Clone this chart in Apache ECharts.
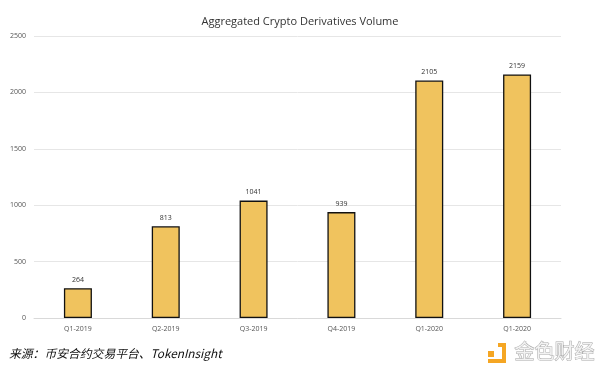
<!DOCTYPE html>
<html>
<head>
<meta charset="utf-8">
<script src="https://cdn.jsdelivr.net/npm/echarts@6/dist/echarts.min.js"></script>
<style>html,body{margin:0;padding:0;background:#fff;}#c{width:600px;height:373px;}</style>
</head>
<body>
<div id="c"></div>
<script>
var categories = ['Q1-2019', 'Q2-2019', 'Q3-2019', 'Q4-2019', 'Q1-2020', 'Q1-2020'];
var volumes = [264, 813, 1041, 939, 2105, 2159];
var yTicks = [0, 500, 1000, 1500, 2000, 2500];
var titleText = 'Aggregated Crypto Derivatives Volume';
var sourceText = '来源：币安合约交易平台、TokenInsight';
var logoText = '金色财经';

var chart = echarts.init(document.getElementById('c'), null, {renderer: 'canvas'});
chart.setOption({
  animation: false,
  backgroundColor: '#fff',
  title: {
    text: titleText,
    left: 'center',
    top: 11,
    textStyle: {fontFamily: 'Open Sans', fontSize: 11, fontWeight: 'normal', color: '#333'}
  },
  grid: {left: 34, right: 39, top: 36, bottom: 55, containLabel: false},
  xAxis: {
    type: 'category',
    data: categories,
    axisLine: {lineStyle: {color: '#d9d9d9', width: 1}},
    axisTick: {show: false},
    axisLabel: {fontFamily: 'Open Sans', fontSize: 7, color: '#555', margin: 7}
  },
  yAxis: {
    type: 'value',
    min: yTicks[0],
    max: yTicks[yTicks.length - 1],
    interval: 500,
    axisLine: {show: false},
    axisTick: {show: false},
    splitLine: {lineStyle: {color: '#e6e6e6', width: 1}},
    axisLabel: {fontFamily: 'Open Sans', fontSize: 7, color: '#555', margin: 8, formatter: function (v) { return String(v); }}
  },
  series: [{
    type: 'bar',
    data: volumes,
    barWidth: 28,
    itemStyle: {color: '#F0C35E', borderColor: '#111', borderWidth: 1.3},
    label: {show: true, position: 'top', distance: 5, fontFamily: 'Open Sans', fontSize: 7, color: '#333'}
  }],
  graphic: [
    {type: 'text', left: 9, top: 348, style: {text: sourceText, fontFamily: 'Noto Sans CJK SC', fontStyle: 'italic', fontSize: 11.8, fill: '#111'}},
    {type: 'rect', shape: {x: 488, y: 351, width: 6, height: 6}, style: {fill: '#F5A623'}},
    {type: 'polygon', shape: {points: [[498, 343], [506, 343], [506, 363], [488, 363], [488, 359], [502, 359], [502, 347], [498, 347]]}, style: {fill: '#F5A623'}},
    {type: 'text', left: 514, top: 341, style: {text: logoText, fontFamily: 'Noto Sans CJK SC', fontSize: 20, fill: '#f2f2f2', stroke: '#aaaaaa', lineWidth: 1}}
  ]
});
</script>
</body>
</html>
